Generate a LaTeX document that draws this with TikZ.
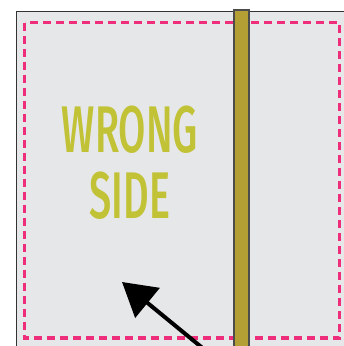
\documentclass[tikz,border=0pt]{standalone}
\usepackage{xcolor}
\usepackage{fontspec}
\usepackage{tikz}
\usetikzlibrary{arrows.meta, positioning, calc}
\newfontfamily\signfont[FakeStretch=0.6]{Fira Sans Medium}
\definecolor{fabricgray}{HTML}{E6E7E9}
\definecolor{seampink}{HTML}{EE2D7B}
\definecolor{stripolive}{HTML}{B49F34}
\definecolor{signlime}{HTML}{C2C236}

\begin{document}
\begin{tikzpicture}[
  x=1pt, y=-1pt,
  seam/.style={draw=seampink, line width=3.5pt, dash pattern=on 8pt off 5pt},
  strip/.style={draw=black!70, line width=1.5pt, fill=stripolive},
  sign/.style={text=signlime, align=center, font=\signfont\fontsize{66}{70}\selectfont}
]
  \useasboundingbox (0,0) rectangle (344,346);
  \clip (0,0) rectangle (344,346);
  % fabric
  \fill[fabricgray] (16,11) rectangle (350,350);
  \draw[black!80, line width=1pt] (16,350) -- (16,11) -- (350,11);
  % seam allowance
  \draw[seam] (24.5,22.5) rectangle (339.5,338);
  % binding strip
  \path[strip] (234,10) rectangle (249,355);
  % label
  \node[sign] (label) at (130,163) {WRONG\\[-4pt]SIDE};
  % pointer
  \coordinate (tip) at (122,282);
  \coordinate (tail) at (222,364);
  \draw[line width=4pt, -{Triangle[length=33pt, width=38pt]}] (tail) -- (tip);
\end{tikzpicture}
\end{document}
